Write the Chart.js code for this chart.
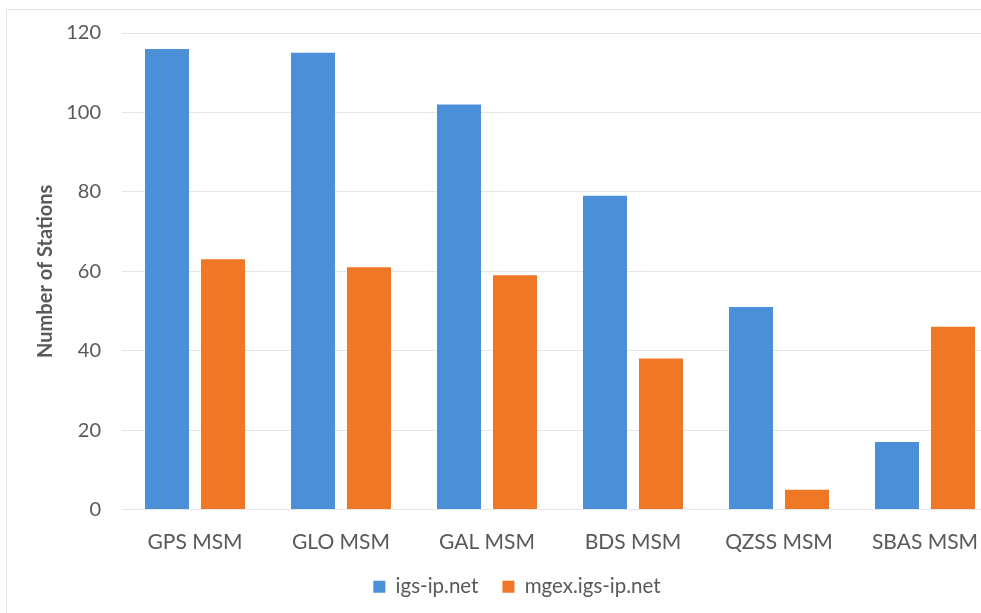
<!DOCTYPE html>
<html>
<head>
<meta charset="utf-8">
<script src="https://cdn.jsdelivr.net/npm/chart.js@4.4.1/dist/chart.umd.min.js"></script>
<style>
  html, body { margin: 0; padding: 0; background: #fff; overflow: hidden; }
  #frame { position: absolute; left: 6px; top: 9px; width: 1100px; height: 700px; border: 1px solid #e4e4e4; box-sizing: border-box; }
  #wrap { position: absolute; left: 0; top: 0; width: 1000px; height: 613px; }
</style>
</head>
<body>
<div id="frame"></div>
<div id="wrap"><canvas id="chart" width="1000" height="613"></canvas></div>
<script>
'use strict';

// ── Data ──────────────────────────────────────────────────────
const categories = ['GPS MSM', 'GLO MSM', 'GAL MSM', 'BDS MSM', 'QZSS MSM', 'SBAS MSM'];
const igsValues  = [116, 115, 102, 79, 51, 17];
const mgexValues = [63, 61, 59, 38, 5, 46];
const yTicks     = [0, 20, 40, 60, 80, 100, 120];

// ── Style ─────────────────────────────────────────────────────
const TEXT = '#595959';
const FONT = 'Lato, "Open Sans", sans-serif';

// nudge the legend a little right, like the original (centred on a wider frame)
const legendShift = {
  id: 'legendShift',
  afterLayout(chart) {
    if (!chart.legend) return;
    chart.legend.left += 18;
    chart.legend.right += 18;
  }
};

new Chart(document.getElementById('chart'), {
  type: 'bar',
  data: {
    labels: categories,
    datasets: [
      { label: 'igs-ip.net',      data: igsValues,  backgroundColor: '#4a8fd8' },
      { label: 'mgex.igs-ip.net', data: mgexValues, backgroundColor: '#ef7726' }
    ]
  },
  options: {
    responsive: false,
    animation: false,
    categoryPercentage: 0.767,
    barPercentage: 0.786,
    layout: { padding: { top: 22, right: 2, bottom: 6, left: 0 } },
    plugins: {
      tooltip: { enabled: false },
      legend: {
        position: 'bottom',
        labels: {
          color: TEXT,
          font: { family: FONT, size: 20.5 },
          boxWidth: 12, boxHeight: 12,
          padding: 24
        }
      }
    },
    scales: {
      x: {
        grid: { display: false },
        border: { display: false },
        ticks: { color: TEXT, font: { family: FONT, size: 21 }, padding: 12 },
        afterFit: (s) => { s.height = 43; }
      },
      y: {
        min: 0, max: 120,
        afterBuildTicks: (s) => { s.ticks = yTicks.map(v => ({ value: v })); },
        grid: { color: '#e6e6e6', drawTicks: false },
        border: { display: false },
        ticks: { color: TEXT, font: { family: FONT, size: 20 }, padding: 21 },
        title: {
          display: true,
          text: 'Number of Stations',
          color: TEXT,
          font: { family: FONT, size: 20, weight: 'bold' },
          padding: { top: 34, bottom: 0 }
        },
        afterFit: (s) => { s.width = 122; }
      }
    }
  },
  plugins: [legendShift]
});
</script>
</body>
</html>
